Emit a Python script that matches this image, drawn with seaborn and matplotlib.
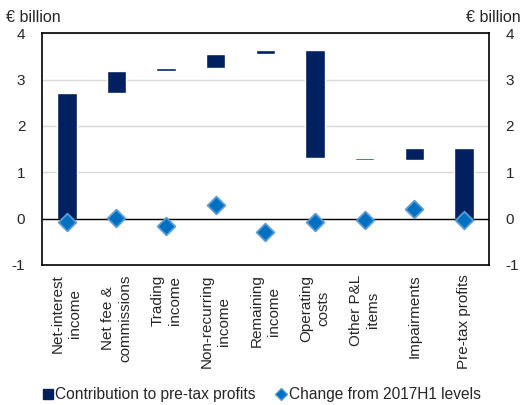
import numpy as np
import pandas as pd
import seaborn as sns
import matplotlib.pyplot as plt
from matplotlib.lines import Line2D

# Data
categories = ["Net-interest\nincome", "Net fee &\ncommissions", "Trading\nincome",
              "Non-recurring\nincome", "Remaining\nincome", "Operating\ncosts",
              "Other P&L\nitems", "Impairments", "Pre-tax profits"]
contributions = [2.72, 0.47, 0.05, 0.31, 0.09, -2.33, -0.04, 0.26]
change_2017h1 = [-0.08, 0.01, -0.17, 0.30, -0.30, -0.08, -0.04, 0.21, -0.04]

BAR_COLOR = "#002060"
DIAMOND_COLOR = "#0070C0"

# Waterfall: each step floats on the running total, last bar is the total
ends = np.cumsum(contributions)
starts = ends - np.array(contributions)
total = ends[-1]
bottoms = np.append(np.minimum(starts, ends), 0.0)
heights = np.append(np.abs(contributions), total)

df = pd.DataFrame({"cat": categories, "height": heights, "bottom": bottoms,
                   "change": change_2017h1})

sns.set_style("white")
plt.rcParams["font.family"] = ["Liberation Sans", "DejaVu Sans"]
plt.rcParams["axes.unicode_minus"] = False

fig = plt.figure(figsize=(5.22, 4.05), dpi=100)
ax = fig.add_axes([0.0805, 0.346, 0.856, 0.572])

sns.barplot(data=df, x="cat", y="height", bottom=df["bottom"].values,
            color=BAR_COLOR, saturation=1, width=0.39, ax=ax, zorder=3)
sns.stripplot(data=df, x="cat", y="change", jitter=False, marker="D", size=9,
              color=DIAMOND_COLOR, edgecolor="#5B9BD5", linewidth=1.3, ax=ax, zorder=4)

ax.set_ylim(-1, 4)
ax.set_xlim(-0.5, len(categories) - 0.5)
ax.set_yticks([-1, 0, 1, 2, 3, 4])
ax.yaxis.grid(True, color="#D9D9D9", linewidth=1)
ax.set_axisbelow(True)
ax.axhline(0, color="black", linewidth=1, zorder=3)
ax.set_xlabel("")
ax.set_ylabel("")
for s in ax.spines.values():
    s.set_visible(True)
    s.set_color("black")
    s.set_linewidth(1.2)

ax.tick_params(axis="y", length=0, pad=12, labelsize=11)
ax.tick_params(axis="x", length=0, pad=7)
ax.set_xticks(range(len(categories)))
ax.set_xticklabels(categories, rotation=90, fontsize=11, va="top", ha="center",
                   multialignment="center", linespacing=1.3)

ax2 = ax.twinx()
ax2.set_ylim(-1, 4)
ax2.set_yticks([-1, 0, 1, 2, 3, 4])
ax2.tick_params(axis="y", length=0, pad=12, labelsize=11)
ax2.grid(False)
for s in ax2.spines.values():
    s.set_visible(False)

fig.text(0.012, 0.958, "€ billion", fontsize=11.5, ha="left", va="center")
fig.text(0.998, 0.958, "€ billion", fontsize=11.5, ha="right", va="center")

handles = [
    Line2D([], [], linestyle="none", marker="s", markersize=7, color=BAR_COLOR),
    Line2D([], [], linestyle="none", marker="D", markersize=6, color=DIAMOND_COLOR,
           markeredgecolor="#5B9BD5"),
]
fig.legend(handles, ["Contribution to pre-tax profits", "Change from 2017H1 levels"],
           loc="center", bbox_to_anchor=(0.5, 0.025), ncol=2, frameon=False,
           fontsize=11.2, handletextpad=0.1, columnspacing=1.2, handlelength=0.8)

fig.savefig("out.png", dpi=100)
